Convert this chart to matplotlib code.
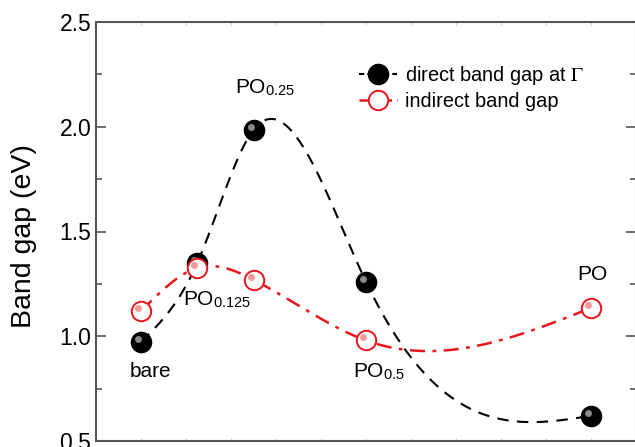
import numpy as np
import matplotlib
matplotlib.use("Agg")
import matplotlib.pyplot as plt
from matplotlib.lines import Line2D
from matplotlib.ticker import MultipleLocator
from matplotlib.transforms import offset_copy

# coverage of PO on the surface
coverage = [0.0, 0.125, 0.25, 0.5, 1.0]
names = ["bare", "PO$_{\\mathregular{0.125}}$", "PO$_{\\mathregular{0.25}}$",
         "PO$_{\\mathregular{0.5}}$", "PO"]
direct_gap = [0.973, 1.35, 1.985, 1.26, 0.62]
indirect_gap = [1.12, 1.326, 1.27, 0.98, 1.135]


def natural_spline(x, y, xs):
    # natural cubic spline through the data points (smooth line like Origin)
    x = np.asarray(x, float)
    y = np.asarray(y, float)
    n = len(x)
    h = np.diff(x)
    A = np.zeros((n, n))
    b = np.zeros(n)
    A[0, 0] = 1
    A[-1, -1] = 1
    for i in range(1, n - 1):
        A[i, i - 1] = h[i - 1]
        A[i, i] = 2 * (h[i - 1] + h[i])
        A[i, i + 1] = h[i]
        b[i] = 6 * ((y[i + 1] - y[i]) / h[i] - (y[i] - y[i - 1]) / h[i - 1])
    m = np.linalg.solve(A, b)
    out = np.empty_like(xs)
    for k, t in enumerate(xs):
        i = min(np.searchsorted(x, t, side="right") - 1, n - 2)
        i = max(i, 0)
        a = x[i + 1] - t
        c = t - x[i]
        out[k] = (m[i] * a**3 + m[i + 1] * c**3) / (6 * h[i]) \
            + (y[i] / h[i] - m[i] * h[i] / 6) * a \
            + (y[i + 1] / h[i] - m[i + 1] * h[i] / 6) * c
    return out


def main():
    plt.rcParams["font.family"] = ["Liberation Sans", "DejaVu Sans"]
    plt.rcParams["mathtext.fontset"] = "stix"

    fig = plt.figure(figsize=(6.35, 4.47), dpi=100)
    ax = fig.add_axes([96 / 635, 6 / 447, 540 / 635, 419 / 447])

    xs = np.linspace(0, 1, 400)
    red = "#e8161b"

    ax.plot(xs, natural_spline(coverage, direct_gap, xs), color="black",
            lw=1.5, dashes=(5.5, 4), zorder=2)
    ax.plot(xs, natural_spline(coverage, indirect_gap, xs), color=red,
            lw=1.8, dashes=(6, 3, 1.5, 3), zorder=2)

    ax.plot(coverage, direct_gap, "o", color="black", ms=14.5, zorder=3)
    shine = offset_copy(ax.transData, fig=fig, x=-3, y=3, units="dots")
    ax.plot(coverage, direct_gap, "o", color="#9a9a9a", ms=5, mew=0,
            alpha=0.9, transform=shine, zorder=4)

    ax.plot(coverage, indirect_gap, "o", mfc="white", mec=red, mew=1.4,
            ms=14, zorder=5)
    ax.plot(coverage, indirect_gap, "o", color="#f29a9a", ms=5, mew=0,
            transform=shine, zorder=6)

    # point labels
    label_pos = [(0.022, 0.83, "center", "center"),
                 (0.093, 1.149, "left", "baseline"),
                 (0.209, 2.161, "left", "baseline"),
                 (0.471, 0.805, "left", "baseline"),
                 (0.969, 1.268, "left", "baseline")]
    for name, (lx, ly, ha, va) in zip(names, label_pos):
        ax.text(lx, ly, name, fontsize=15, ha=ha, va=va, zorder=7)

    ax.set_xlim(-0.1, 1.1)
    ax.set_ylim(0.5, 2.5)
    ax.yaxis.set_major_locator(MultipleLocator(0.5))
    ax.yaxis.set_minor_locator(MultipleLocator(0.25))
    ax.xaxis.set_major_locator(MultipleLocator(0.1))
    ax.set_xticklabels([])
    ax.tick_params(axis="y", which="both", direction="in", right=True,
                   labelsize=16.5, color="#555555", width=1.2)
    ax.tick_params(axis="y", which="major", length=7)
    ax.tick_params(axis="y", which="minor", length=4)
    ax.tick_params(axis="x", which="both", direction="in", top=True,
                   length=2, width=0.8, color="#cccccc")
    for sp in ax.spines.values():
        sp.set_color("#555555")
        sp.set_linewidth(1.5)

    ax.set_ylabel("Band gap (eV)", fontsize=20.5)
    ax.yaxis.set_label_coords(-0.109, 0.49)

    handles = [
        Line2D([], [], color="black", lw=1.5, dashes=(2.5, 1.5), marker="o",
               ms=14.5, mfc="black"),
        Line2D([], [], color=red, lw=1.8, dashes=(4, 2, 1, 2), marker="o",
               ms=14, mfc="white", mec=red, mew=1.4),
    ]
    ax.legend(handles, ["direct band gap at $\\Gamma$", "indirect band gap"],
              loc="upper left", bbox_to_anchor=(0.473, 0.92), frameon=False,
              fontsize=14.4, handlelength=1.9, handletextpad=0.4,
              labelspacing=0.25, borderaxespad=0)

    fig.savefig("out.png", dpi=100)


if __name__ == "__main__":
    main()
